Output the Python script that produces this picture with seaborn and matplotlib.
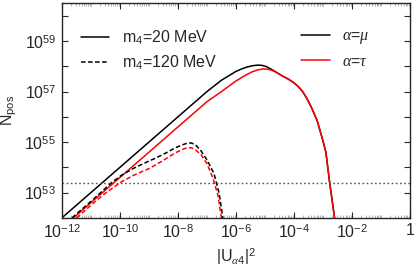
import numpy as np
import pandas as pd
import matplotlib
matplotlib.use("Agg")
import matplotlib.pyplot as plt
from matplotlib.lines import Line2D
from matplotlib.ticker import LogLocator, NullFormatter, FixedLocator
import seaborn as sns

# valeurs (log10 de |U|^2 et log10 de N_pos)
mu_20_logU = [-12.0, -11.0, -10.0, -9.0, -8.0, -7.0, -6.5, -6.0, -5.8, -5.6, -5.4, -5.25,
              -5.1, -4.95, -4.8, -4.6, -4.4, -4.2, -4.0, -3.85, -3.7, -3.55, -3.4, -3.2,
              -3.0, -2.9, -2.77, -2.6, -2.5]
mu_20_logN = [52.0, 53.0, 54.0, 55.0, 56.0, 57.0, 57.45, 57.8, 57.9, 57.98, 58.03, 58.05,
              58.04, 57.99, 57.9, 57.76, 57.62, 57.5, 57.35, 57.2, 57.0, 56.72, 56.38, 55.85,
              55.05, 54.6, 53.4, 52.0, 51.2]

tau_20_logU = [-11.6, -11.0, -10.0, -9.0, -8.0, -7.0, -6.5, -6.0, -5.7, -5.45, -5.25,
               -5.05, -4.85, -4.65, -4.4, -4.2, -4.0, -3.85, -3.7, -3.55, -3.4, -3.2,
               -3.0, -2.9, -2.77, -2.6, -2.5]
tau_20_logN = [52.0, 52.6, 53.6, 54.6, 55.6, 56.6, 57.0, 57.42, 57.63, 57.78, 57.86,
               57.9, 57.88, 57.79, 57.62, 57.5, 57.35, 57.2, 57.0, 56.72, 56.38, 55.85,
               55.05, 54.6, 53.4, 52.0, 51.2]

mu_120_logU = [-11.65, -11.0, -10.28, -9.93, -9.5, -9.0, -8.78, -8.4, -8.1, -7.85,
               -7.7, -7.55, -7.4, -7.2, -7.0, -6.76, -6.58, -6.45, -6.4]
mu_120_logN = [52.0, 52.65, 53.4, 53.7, 53.98, 54.25, 54.36, 54.58, 54.77, 54.89,
               54.95, 54.97, 54.9, 54.65, 54.3, 53.77, 52.98, 52.0, 51.6]

tau_120_logU = [-11.49, -11.0, -10.5, -9.93, -9.5, -9.0, -8.78, -8.4, -8.1, -7.85,
                -7.7, -7.55, -7.4, -7.2, -7.0, -6.8, -6.62, -6.5, -6.45]
tau_120_logN = [52.0, 52.5, 52.98, 53.44, 53.7, 53.95, 54.09, 54.35, 54.57, 54.71,
                54.77, 54.78, 54.7, 54.5, 54.15, 53.6, 52.9, 52.0, 51.6]

seuil = 2.5e53

courbes = [("mu", "20", mu_20_logU, mu_20_logN),
           ("tau", "20", tau_20_logU, tau_20_logN),
           ("mu", "120", mu_120_logU, mu_120_logN),
           ("tau", "120", tau_120_logU, tau_120_logN)]

rows = []
for flav, m4, lu, ln in courbes:
    for i, (a, b) in enumerate(zip(lu, ln)):
        rows.append({"flav": flav, "m4": m4, "i": i, "U2": 10.0 ** a, "N": 10.0 ** b})
df = pd.DataFrame(rows)

sns.set_style("ticks")
plt.rcParams["font.family"] = ["Liberation Sans", "DejaVu Sans"]
plt.rcParams["mathtext.fontset"] = "custom"
plt.rcParams["mathtext.rm"] = "Liberation Sans"
plt.rcParams["mathtext.it"] = "Liberation Serif:italic"
plt.rcParams["mathtext.bf"] = "Liberation Sans:bold"
plt.rcParams["font.size"] = 11.5

fig = plt.figure(figsize=(4.15, 2.7), dpi=100)
ax = fig.add_axes([0.149, 0.193, 0.839, 0.795])

couleurs = {"mu": "black", "tau": "red"}
traits = {"20": None, "120": (3.0, 1.6)}

for (m4, flav), d in df.groupby(["m4", "flav"], sort=False):
    sns.lineplot(data=d, x="U2", y="N", ax=ax, color=couleurs[flav], lw=1.1,
                 sort=False, estimator=None, legend=False)
    if traits[m4]:
        ax.lines[-1].set_dashes(traits[m4])

ax.axhline(seuil, color="#555555", ls=(0, (1.2, 1.8)), lw=1.0)

ax.set_xscale("log")
ax.set_yscale("log")
ax.set_xlim(1e-12, 1)
ax.set_ylim(1e52, 10 ** 60.5)

ax.xaxis.set_major_locator(FixedLocator([10.0 ** k for k in range(-12, 1, 2)]))
ax.xaxis.set_minor_locator(LogLocator(base=10, subs=np.arange(1, 10), numticks=100))
ax.xaxis.set_minor_formatter(NullFormatter())
ax.set_xticklabels([r"$10^{-12}$", r"$10^{-10}$", r"$10^{-8}$", r"$10^{-6}$",
                    r"$10^{-4}$", r"$10^{-2}$", "1"])
ax.yaxis.set_major_locator(FixedLocator([10.0 ** k for k in range(53, 60, 2)]))
ax.yaxis.set_minor_locator(FixedLocator([10.0 ** k for k in range(52, 61)]))
ax.yaxis.set_minor_formatter(NullFormatter())
ax.set_yticklabels([r"$10^{53}$", r"$10^{55}$", r"$10^{57}$", r"$10^{59}$"])

ax.tick_params(which="both", direction="in", top=True, right=True, labelsize=11.5)
ax.tick_params(which="major", length=4, width=0.8, pad=4)
ax.tick_params(axis="y", which="minor", length=4, width=0.8)
ax.tick_params(axis="x", which="minor", length=2, width=0.5, color="#999999")
for s in ax.spines.values():
    s.set_linewidth(1.0)

ax.set_xlabel(r"|U$_{\alpha 4}$|$^2$", fontsize=11.5, labelpad=3)
ax.set_ylabel(r"N$_{\rm pos}$", fontsize=11.5, labelpad=4)

h_masse = [Line2D([], [], color="black", lw=1.1),
           Line2D([], [], color="black", lw=1.1, dashes=(3.0, 1.6))]
leg1 = ax.legend(h_masse, [r"m$_4$=20 MeV", r"m$_4$=120 MeV"], loc="upper left",
                 bbox_to_anchor=(0.013, 0.95), frameon=False, fontsize=11.5,
                 handlelength=1.8, handletextpad=0.8, labelspacing=0.45)
ax.add_artist(leg1)
h_saveur = [Line2D([], [], color="black", lw=1.1),
            Line2D([], [], color="red", lw=1.1)]
ax.legend(h_saveur, [r"$\alpha$=$\mu$", r"$\alpha$=$\tau$"], loc="upper left",
          bbox_to_anchor=(0.645, 0.95), frameon=False, fontsize=11.5,
          handlelength=1.8, handletextpad=0.8, labelspacing=0.45)

fig.savefig("out.png", dpi=100)
